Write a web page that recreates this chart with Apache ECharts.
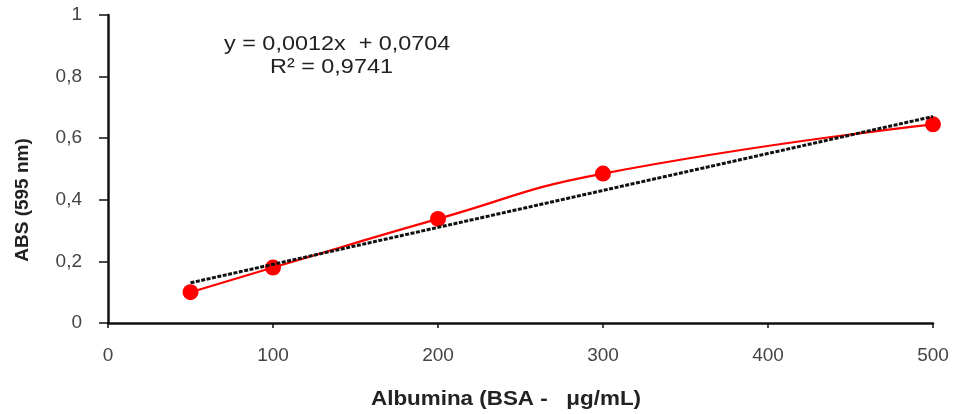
<!DOCTYPE html>
<html>
<head>
<meta charset="utf-8">
<script src="https://cdn.jsdelivr.net/npm/echarts@6/dist/echarts.min.js"></script>
<style>
  html, body { margin: 0; padding: 0; background: #fff; }
  #main { width: 953px; height: 414px; }
</style>
</head>
<body>
<div id="main"></div>
<script>
  // dados
  var concentracao = [50, 100, 200, 300, 500];
  var absorbancia = [0.10, 0.18, 0.338, 0.485, 0.645];
  // equação da linha de tendência (do gráfico)
  var inclinacao = 0.0012;
  var intercepto = 0.0704;
  var xTicks = [0, 100, 200, 300, 400, 500];
  var yTicks = [0, 0.2, 0.4, 0.6, 0.8, 1];

  var pontos = concentracao.map(function (x, i) { return [x, absorbancia[i]]; });
  var xMin = concentracao[0], xMax = concentracao[concentracao.length - 1];
  var tendencia = [[xMin, inclinacao * xMin + intercepto], [xMax, inclinacao * xMax + intercepto]];

  function virgula(v) { return String(v).replace('.', ','); }

  var myChart = echarts.init(document.getElementById('main'));
  var option = {
    animation: false,
    grid: { left: 108, right: 20, top: 15, bottom: 91 },
    xAxis: {
      type: 'value',
      min: xTicks[0], max: xTicks[xTicks.length - 1], interval: 100,
      axisLine: { lineStyle: { color: '#111', width: 2.5 } },
      axisTick: { show: true, length: 5, lineStyle: { color: '#111', width: 1.5 } },
      axisLabel: { fontFamily: 'Liberation Sans', fontSize: 19, color: '#444', margin: 23 },
      splitLine: { show: false }
    },
    yAxis: {
      type: 'value',
      min: yTicks[0], max: yTicks[yTicks.length - 1], interval: 0.2,
      axisLine: { show: true, lineStyle: { color: '#111', width: 2.5 } },
      axisTick: { show: true, length: 9, lineStyle: { color: '#111', width: 1.5 } },
      axisLabel: { fontFamily: 'Liberation Sans', fontSize: 19, color: '#444', margin: 26, formatter: virgula },
      splitLine: { show: false }
    },
    series: [
      {
        name: 'tendência',
        type: 'line',
        data: tendencia,
        symbol: 'none',
        z: 3,
        lineStyle: { color: '#111', width: 3, type: [4, 1.5] }
      },
      {
        name: 'ABS',
        type: 'line',
        data: pontos,
        smooth: 0.5,
        symbol: 'circle',
        symbolSize: 16,
        z: 2,
        itemStyle: { color: '#ff0000' },
        lineStyle: { color: '#ff0000', width: 2.2 }
      }
    ],
    graphic: [
      {
        type: 'text', x: 224, y: 34, scaleX: 1.17,
        style: { text: 'y = 0,0012x  + 0,0704', font: '20px "Liberation Sans"', fill: '#222' }
      },
      {
        type: 'text', x: 270, y: 57, scaleX: 1.17,
        style: { text: 'R² = 0,9741', font: '20px "Liberation Sans"', fill: '#222' }
      },
      {
        type: 'text', x: 506, y: 399, scaleX: 1.12,
        style: { text: 'Albumina (BSA -   μg/mL)', font: 'bold 20px "Liberation Sans"', fill: '#222',
                 align: 'center', verticalAlign: 'middle' }
      },
      {
        type: 'text', x: 23, y: 200, rotation: Math.PI / 2,
        style: { text: 'ABS (595 nm)', font: 'bold 19px "Liberation Sans"', fill: '#222',
                 align: 'center', verticalAlign: 'middle' }
      }
    ]
  };
  myChart.setOption(option);
</script>
</body>
</html>
